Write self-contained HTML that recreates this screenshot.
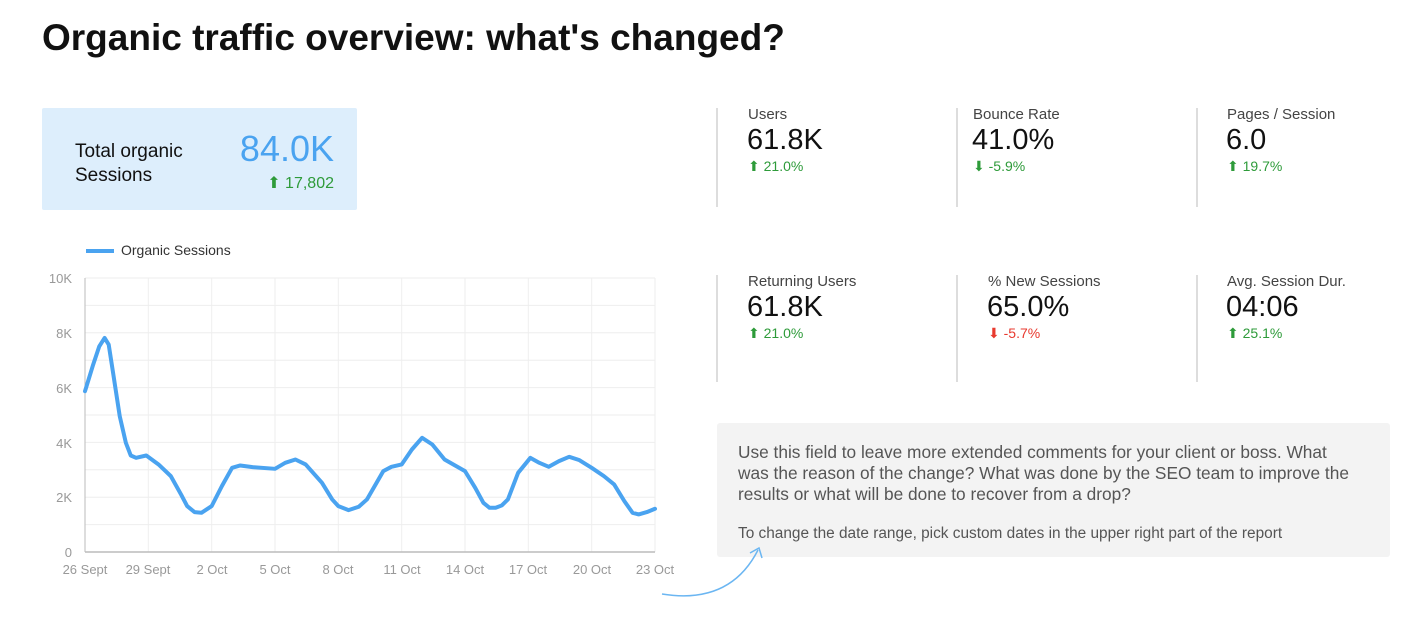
<!DOCTYPE html>
<html><head><meta charset="utf-8"><style>
body{margin:0;width:1418px;height:622px;background:#fff;font-family:"Liberation Sans",sans-serif;position:relative;overflow:hidden}
.a{position:absolute;white-space:nowrap}
.lab{font-size:15px;color:#444}
.val{font-size:29px;color:#111}
.up{font-size:14px;color:#2e9b3a}
.dn{font-size:14px;color:#e83a2f}
.vl{position:absolute;width:2px;background:#ddd}
</style></head><body>
<div class="a" style="left:42px;top:17px;font-size:37px;font-weight:bold;color:#111">Organic traffic overview: what's changed?</div>
<div class="a" style="left:42px;top:108px;width:315px;height:102px;background:#ddeefc;border-radius:2px"></div>
<div class="a" style="left:75px;top:140px;font-size:19px;color:#111;line-height:24px">Total organic<br>Sessions</div>
<div class="a" style="right:1084px;top:128px;font-size:36px;color:#4aa3f0">84.0K</div>
<div class="a" style="right:1084px;top:173px;font-size:16px;color:#2e9b3a">⬆ 17,802</div>

<div class="vl" style="left:716px;top:108px;height:99px"></div>
<div class="vl" style="left:956px;top:108px;height:99px"></div>
<div class="vl" style="left:1196px;top:108px;height:99px"></div>
<div class="vl" style="left:716px;top:275px;height:107px"></div>
<div class="vl" style="left:956px;top:275px;height:107px"></div>
<div class="vl" style="left:1196px;top:275px;height:107px"></div>

<div class="a lab" style="left:748px;top:106px">Users</div>
<div class="a val" style="left:747px;top:124px">61.8K</div>
<div class="a up" style="left:748px;top:158px">⬆ 21.0%</div>
<div class="a lab" style="left:973px;top:106px">Bounce Rate</div>
<div class="a val" style="left:972px;top:124px">41.0%</div>
<div class="a up" style="left:973px;top:158px">⬇ -5.9%</div>
<div class="a lab" style="left:1227px;top:106px">Pages / Session</div>
<div class="a val" style="left:1226px;top:124px">6.0</div>
<div class="a up" style="left:1227px;top:158px">⬆ 19.7%</div>

<div class="a lab" style="left:748px;top:273px">Returning Users</div>
<div class="a val" style="left:747px;top:291px">61.8K</div>
<div class="a up" style="left:748px;top:325px">⬆ 21.0%</div>
<div class="a lab" style="left:988px;top:273px">% New Sessions</div>
<div class="a val" style="left:987px;top:291px">65.0%</div>
<div class="a dn" style="left:988px;top:325px">⬇ -5.7%</div>
<div class="a lab" style="left:1227px;top:273px">Avg. Session Dur.</div>
<div class="a val" style="left:1226px;top:291px">04:06</div>
<div class="a up" style="left:1227px;top:325px">⬆ 25.1%</div>

<div class="a" style="left:717px;top:423px;width:673px;height:134px;background:#f3f3f3;border-radius:3px"></div>
<div class="a" style="left:738px;top:442px;font-size:17.3px;color:#555;line-height:21px">Use this field to leave more extended comments for your client or boss. What<br>was the reason of the change? What was done by the SEO team to improve the<br>results or what will be done to recover from a drop?</div>
<div class="a" style="left:738px;top:525px;font-size:15.4px;color:#555">To change the date range, pick custom dates in the upper right part of the report</div>

<svg class="a" style="left:0;top:0" width="1418" height="622">
<path d="M662 594 Q730 605 758 550 M750 553 L759 548 L762 558" fill="none" stroke="#6bb6f2" stroke-width="1.5"/>
<line x1="86" y1="251" x2="114" y2="251" stroke="#4aa3f0" stroke-width="4"/>
<text x="121" y="255" font-size="14" fill="#333" font-family="Liberation Sans">Organic Sessions</text>
<g stroke="#eee" stroke-width="1">
<line x1="85" y1="278" x2="655" y2="278"/><line x1="85" y1="305.4" x2="655" y2="305.4"/><line x1="85" y1="332.8" x2="655" y2="332.8"/><line x1="85" y1="360.2" x2="655" y2="360.2"/><line x1="85" y1="387.6" x2="655" y2="387.6"/><line x1="85" y1="415" x2="655" y2="415"/><line x1="85" y1="442.4" x2="655" y2="442.4"/><line x1="85" y1="469.8" x2="655" y2="469.8"/><line x1="85" y1="497.2" x2="655" y2="497.2"/><line x1="85" y1="524.6" x2="655" y2="524.6"/>
<line x1="148.3" y1="278" x2="148.3" y2="552"/><line x1="211.7" y1="278" x2="211.7" y2="552"/><line x1="275" y1="278" x2="275" y2="552"/><line x1="338.3" y1="278" x2="338.3" y2="552"/><line x1="401.7" y1="278" x2="401.7" y2="552"/><line x1="465" y1="278" x2="465" y2="552"/><line x1="528.3" y1="278" x2="528.3" y2="552"/><line x1="591.7" y1="278" x2="591.7" y2="552"/><line x1="655" y1="278" x2="655" y2="552"/>
</g>
<line x1="85" y1="278" x2="85" y2="552" stroke="#bbb"/>
<line x1="85" y1="552" x2="655" y2="552" stroke="#bbb" stroke-width="1.5"/>
<g font-size="13" fill="#999" text-anchor="end" font-family="Liberation Sans">
<text x="72" y="283">10K</text><text x="72" y="338">8K</text><text x="72" y="393">6K</text><text x="72" y="448">4K</text><text x="72" y="502">2K</text><text x="72" y="557">0</text>
</g>
<g font-size="13" fill="#999" text-anchor="middle" font-family="Liberation Sans">
<text x="85" y="574">26 Sept</text><text x="148" y="574">29 Sept</text><text x="212" y="574">2 Oct</text><text x="275" y="574">5 Oct</text><text x="338" y="574">8 Oct</text><text x="402" y="574">11 Oct</text><text x="465" y="574">14 Oct</text><text x="528" y="574">17 Oct</text><text x="592" y="574">20 Oct</text><text x="655" y="574">23 Oct</text>
</g>
<g transform="translate(85,278) scale(0.4086,0.333) translate(-110,-145)">
<polyline fill="none" stroke="#4aa3f0" stroke-width="4" vector-effect="non-scaling-stroke" stroke-linejoin="round" stroke-linecap="round" points="110,485 130,405 145,350 158,325 168,345 180,440 195,560 210,640 222,678 235,685 260,678 290,705 320,740 345,795 360,830 378,848 395,850 420,830 445,770 470,715 490,708 520,713 575,718 600,700 625,690 650,705 690,760 715,810 730,830 755,842 780,832 800,810 840,725 860,712 885,705 910,660 935,625 960,645 990,690 1040,725 1065,775 1085,820 1100,835 1115,835 1130,828 1145,810 1170,730 1200,685 1222,700 1245,712 1270,695 1295,682 1320,692 1350,715 1380,740 1405,765 1430,815 1450,850 1465,855 1485,848 1505,838"/>
</g>
</svg>
</body></html>
